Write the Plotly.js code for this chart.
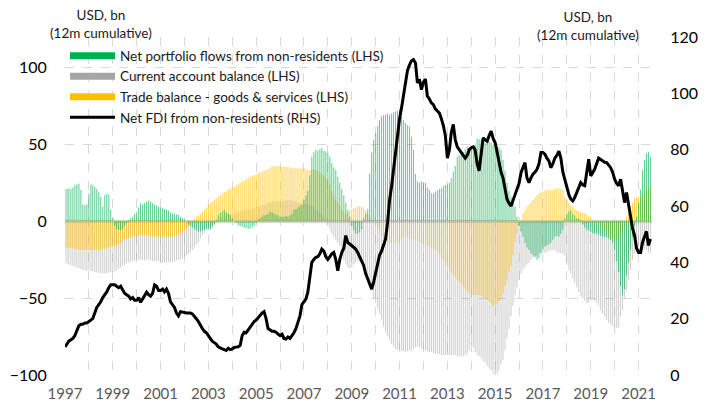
<!DOCTYPE html>
<html><head><meta charset="utf-8">
<script src="https://cdn.plot.ly/plotly-3.0.1.min.js"></script>
<style>html,body{margin:0;padding:0;background:#fff}</style>
</head><body><div id="chart" style="width:714px;height:401px"></div>
<script>
// Monthly data, Jan 1997 - Jul 2021 (USD bn, 12m cumulative)
const startYear = 1997;

const portfolioFlows = [
  21, 21, 21.5, 21, 22, 23.5, 24, 24.5, 20.5, 11, 10.5, 11,
  18, 24, 23.5, 22.5, 21, 19, 16, 9.5, 17, 18, 17.5, 7.5,
  2, -3, -5, -5.5, -6, -5, -3, -1, 1, 2, 3, 5,
  6, 9, 12, 11, 12, 13, 13.5, 13, 12, 11, 10.5, 9.7,
  9, 8.6, 8, 7.5, 7, 6, 5.3, 5, 4.5, 4.2, 3, 2,
  1, 0, -2, -3, -4, -5, -6, -6.6, -6.6, -6, -5.5, -5,
  -5, -5.5, -4, -2, 1, 4, 5.5, 6.5, 7.5, 6, 5, 4,
  2, 0, -1, -2.5, -3, -3.5, -4, -4.5, -5, -4.5, -4, -3,
  -1, 1, 2, 3, 4, 4.2, 5, 6.4, 6, 5, 4.5, 4,
  3, 3, 3, 3.5, 3, 4, 5, 7.5, 8, 9, 10, 10.7,
  14, 17, 20, 30, 42, 45, 46.6, 46, 47, 47.7, 46, 45.5,
  44.4, 42, 38, 35, 33.5, 29, 25, 21, 17, 12, 7.5, 3,
  -3, -6, -7.7, -8, -7, -5, 2, 5, 8, 31, 45, 53,
  57.4, 62, 66, 68.3, 69, 69.4, 70, 69.4, 70, 71, 71.5, 72,
  72.6, 68, 66, 64, 62.5, 61.8, 55, 46.6, 31, 26, 24.9, 26,
  25, 24.9, 22, 20.5, 18.3, 18, 19.4, 20, 21, 21.6, 23, 23.8,
  24, 24.9, 28, 32.4, 36, 42, 43, 44.4, 45, 47, 48.7, 47.5,
  46.6, 48, 49.8, 54, 53.5, 53, 52, 51, 52, 52, 51, 50,
  48.7, 48.7, 48, 46.6, 40, 33, 25, 20, 16, 12, 9.7, 3,
  -3, -6.6, -10, -14, -17, -18.6, -20.7, -22, -23, -25, -24, -20.7,
  -18, -16.4, -15.5, -15, -14, -12, -10, -9.5, -10, -8, -5.5, 2,
  5, 6.4, 7, 5, 4, 2, 2, 1, -2, -4, -5.5, -6,
  -7, -7.7, -8, -7.7, -8.5, -9.5, -10, -10, -10.5, -11, -12, -14,
  -18.6, -26, -33, -42, -48, -44, -35, -27, -18.6, -10, -3, 3,
  12, 20.5, 33.5, 40, 44.4, 45, 42
];

const currentAccount = [
  -27, -27.5, -28, -28.5, -29, -29.4, -30, -30.5, -31, -31.6, -32, -32,
  -32, -32.5, -32.7, -33, -33.3, -33.5, -33.8, -34, -34, -33.8, -33.5, -33,
  -33, -32.5, -31.6, -31, -30, -29, -28.3, -27.5, -27, -26.5, -26, -25.5,
  -25, -25, -25, -25, -25.5, -25, -25, -25.5, -26, -26, -26, -26,
  -27, -27, -27, -27, -26.5, -26.5, -26, -26, -25.5, -25, -25, -24,
  -23, -22, -21, -20, -18.6, -17, -15.3, -14, -11, -8.8, -7.7, -6,
  -5.5, -4, -3, -2.3, -1, 0.5, 2, 3, 4, 4.5, 5, 5,
  5, 5.5, 6, 6, 6.5, 7, 7, 7.5, 7.5, 8, 8, 8.5,
  9, 9.5, 10, 10.5, 11, 11.5, 12, 12.5, 13, 13, 13, 13,
  13, 13, 13.5, 13.5, 14, 14, 13.5, 13, 13, 12.5, 12, 12,
  12, 11.5, 11, 10.5, 10, 9, 8, 7, 5.5, 4, 2.5, 1,
  -2, -5, -8, -10, -12, -14, -16, -20, -25, -28, -30, -30.5,
  -30, -28, -27, -26, -26, -27, -31, -34, -37, -40, -45, -50,
  -53, -57, -60, -64, -68.5, -72, -75, -77, -80, -81.5, -83, -83.5,
  -83.7, -84, -84.5, -84.8, -84.5, -84, -84, -83, -82, -81.5, -82, -83,
  -83.5, -84, -84.5, -85, -85, -85.5, -86, -86, -86.5, -87, -87, -87,
  -87, -87, -87, -87, -87, -88, -88, -88, -88, -87, -86, -84,
  -80, -82, -85, -87, -88, -89, -91, -92, -94, -96, -97, -99,
  -101, -99, -97, -93, -90, -84, -76, -70, -62, -55, -48, -43,
  -38, -34, -31.6, -30, -28, -27, -25.5, -24, -23, -22, -20.7, -20.5,
  -20.5, -20.5, -20, -19, -18.6, -18.6, -19, -20, -20.7, -20.7, -21, -22,
  -28, -31.6, -34, -37, -40, -43, -46, -48.8, -50, -51.5, -53, -53,
  -51, -51, -52, -53, -55, -58, -60, -62, -64, -66, -67, -68,
  -69, -69.5, -69, -62, -57.7, -50, -45, -38, -31.6, -25, -21, -18.6,
  -16.4, -16.5, -17, -18, -18.6, -20, -20.7
];

const tradeBalance = [
  -16.5, -17, -17, -17.5, -17.5, -18, -18, -18.5, -18.6, -18.6, -18.6, -18.6,
  -18.6, -18.6, -18.6, -18.6, -18.6, -18.6, -18.6, -18, -18, -17.5, -17, -16.4,
  -16.4, -16, -15.5, -15, -14, -13, -12, -11.5, -11, -10.5, -10, -10,
  -9.5, -9, -8.8, -8.8, -8.8, -9, -9, -9.5, -9.5, -10, -10, -10,
  -10, -10, -10, -10, -10, -10, -9.8, -9.5, -9, -8.8, -8, -7,
  -5.5, -4.5, -3.4, -2, 0, 1.5, 3, 4, 5, 6.4, 7.5, 9,
  10.5, 11.8, 13, 14, 15, 16, 17, 18, 19, 19.4, 20.5, 21.5,
  22, 22.7, 23.5, 24.5, 25, 26, 26.5, 27.5, 28, 29, 29.5, 30,
  30.5, 31.4, 32, 32.5, 33, 33.5, 34, 35, 35.5, 36, 36, 36,
  35.7, 35.5, 35.5, 35.7, 35.5, 35, 34.6, 34.6, 34.6, 34.6, 34.6, 34.6,
  34.6, 34, 33.5, 33.5, 34, 34, 33.5, 33, 32, 31, 29.5, 28,
  27, 24, 20, 17, 14, 12, 10, 8, 6, 5, 5.5, 7,
  8, 8.6, 9, 9.7, 9.7, 9.5, 9, 7, 5, 3, 1, 0,
  -2, -5, -8, -10, -11, -12, -13, -13.5, -14, -14, -14, -13,
  -12, -11, -10.5, -10, -10, -10.5, -11, -12, -12.5, -13, -13.5, -14,
  -14.5, -15, -15.5, -16.4, -17, -17.5, -18.6, -19.5, -21, -23, -25, -27.5,
  -29.5, -31, -33, -34, -36, -38, -39, -40, -42, -44, -45.5, -47,
  -47.5, -48, -48, -48, -48, -48.5, -49, -50, -51, -52, -53.5, -55,
  -55, -54, -52, -51, -47, -42, -38, -33, -29, -22, -14, -8,
  -3, 1, 5, 7, 9.7, 11, 12.5, 14, 15.5, 17, 18.3, 19,
  19.5, 20, 20.5, 20.5, 20.5, 20.5, 21, 21.6, 21.5, 21, 20.5, 16,
  14, 12, 10.5, 9.7, 8, 7, 6.4, 6, 5.5, 5.3, 4.5, 3.5,
  2, 1, 0, -1, -2.3, -3, -4, -5.5, -7, -8, -10, -11.5,
  -13, -12, -11, -10, -6, -3, 3, 5, 9.7, 12, 15, 15.5,
  16, 16, 17, 18.3, 20, 21.6, 21.6
];

const netFDI = [
  10, 11, 12, 12.5, 13, 14, 16, 17.5, 18, 18, 18.5, 18.5,
  19, 19.5, 20, 22, 24, 25, 26, 27.5, 28.5, 29.5, 31, 32,
  32, 32, 31.5, 31, 31.5, 30, 29, 28.5, 28, 27, 27.5, 26.5,
  26.5, 27.5, 25.8, 27, 28, 29.4, 28.5, 28, 29, 32, 31.5, 30,
  30, 30.5, 29.5, 30.5, 29, 26, 25, 24, 22, 21, 22.5, 22.3,
  22.3, 22, 22, 22, 21.7, 21, 20, 19, 17.5, 16.5, 15.5, 15,
  14, 13, 12, 11.5, 11, 10, 9.5, 9.3, 9, 8.7, 9.5, 9,
  9.3, 9.8, 9.9, 10, 10.5, 14, 15.2, 15, 16, 17, 17.6, 19,
  19.5, 20.5, 21, 22, 22.5, 20, 16.5, 16, 15.5, 15.5, 15.2, 14.5,
  14, 14.5, 13, 12.8, 13.5, 13, 14, 15, 16.5, 18.8, 21, 25,
  26, 27, 29.4, 34, 40, 41, 41.8, 42, 43, 44.7, 44, 42,
  41, 42, 43, 43.5, 41, 37, 41, 43.5, 45, 49.5, 47, 46.5,
  45.9, 45, 44.7, 43.5, 42, 41, 38.9, 36, 34, 32, 30.5, 33,
  36.5, 39, 42.5, 44, 46, 48.3, 54, 62, 67, 73, 80, 85,
  91, 95, 99, 104, 108, 110, 111.5, 112, 110.8, 103.7, 105, 101.3,
  104, 105, 99, 98, 96.6, 96, 94.5, 93.7, 93, 91, 88.5, 85,
  77, 80, 86, 89, 83.6, 81, 80, 79, 78, 77, 78, 80,
  80.7, 81, 80, 75, 72.5, 79, 84.2, 83.5, 83, 85, 86.6, 84,
  82.5, 79, 75.4, 72, 70, 66, 62.4, 61, 60, 62, 64, 65.4,
  68, 71.9, 74, 75.4, 70, 68.3, 70, 71.3, 72, 73, 75, 79,
  79, 78.3, 77, 76, 73.6, 75, 77, 78, 79.5, 77, 72, 69.5,
  66, 64, 62.5, 61.8, 63, 64.8, 66, 68.3, 67.5, 67.2, 72, 76.6,
  70.7, 72, 73, 75, 77, 76.5, 76, 75.5, 75.4, 74.5, 73.6, 72,
  69.5, 68, 67.2, 69.5, 66, 61.2, 64.8, 60, 56.5, 52, 49.5, 45,
  43.5, 43.5, 47, 49.5, 51, 46, 48.3
];

const seriesNames = [
  'Net portfolio flows from non-residents (LHS)',
  'Current account balance (LHS)',
  'Trade balance - goods & services (LHS)',
  'Net FDI from non-residents (RHS)'
];
const tickYears = [];
for (let y = 1997; y <= 2021; y++) tickYears.push(y);
const tickLabels = tickYears.map(y => (y % 2 === 1 ? String(y) : ''));

// month dates built from the series length
const dates = netFDI.map((_, i) => {
  const y = startYear + Math.floor(i / 12);
  const m = (i % 12) + 1;
  return y + '-' + String(m).padStart(2, '0') + '-01';
});
const tickDates = tickYears.map(y => y + '-01-01');

const GREEN = '#00b050', GREY = '#a6a6a6', YELLOW = '#ffc000';
const barW = 16 * 86400000;

const traces = [
  {type:'bar', x:dates, y:currentAccount, width:barW, marker:{color:'rgba(166,166,166,0.55)', line:{width:0}}, showlegend:false, hoverinfo:'skip'},
  {type:'bar', x:dates, y:tradeBalance, width:barW, marker:{color:'rgba(255,192,0,0.7)', line:{width:0}}, showlegend:false, hoverinfo:'skip'},
  {type:'bar', x:dates, y:portfolioFlows, width:barW, marker:{color:'rgba(0,176,80,0.62)', line:{width:0}}, showlegend:false, hoverinfo:'skip'},
  // legend swatches
  {type:'scatter', mode:'lines', x:[null], y:[null], name:seriesNames[0], line:{color:GREEN, width:7}, legendrank:1},
  {type:'scatter', mode:'lines', x:[null], y:[null], name:seriesNames[1], line:{color:GREY, width:7}, legendrank:2},
  {type:'scatter', mode:'lines', x:[null], y:[null], name:seriesNames[2], line:{color:YELLOW, width:7}, legendrank:3},
  {type:'scatter', mode:'lines', x:dates, y:netFDI, yaxis:'y2', name:seriesNames[3], line:{color:'#000', width:3}, legendrank:4}
];

const layout = {
  width:714, height:401,
  margin:{l:65, r:62, t:37, b:26},
  paper_bgcolor:'#fff', plot_bgcolor:'#fff',
  barmode:'overlay',
  font:{family:'Lato, sans-serif', color:'#000'},
  showlegend:true,
  legend:{x:0, y:0.99, xanchor:'left', yanchor:'top', bgcolor:'rgba(0,0,0,0)',
          font:{size:13.5, color:'#1a1a1a'}, itemwidth:45, tracegroupgap:0},
  xaxis:{type:'date', range:['1997-01-01','2021-07-25'], tickmode:'array', tickvals:tickDates, ticktext:tickLabels,
         showgrid:true, gridcolor:'#d9d9d9', griddash:'dash', gridwidth:1, zeroline:false, showline:false,
         ticks:'outside', ticklen:5, tickcolor:'rgba(0,0,0,0)', tickfont:{size:15, color:'#595959'}, automargin:false},
  yaxis:{range:[-100,120], tickmode:'array', tickvals:[-100,-50,0,50,100], showgrid:true, gridcolor:'#d9d9d9', griddash:'dash',
         zeroline:true, zerolinecolor:'#d0d0d0', zerolinewidth:3, showline:false,
         ticks:'outside', ticklen:14, tickcolor:'rgba(0,0,0,0)', tickfont:{size:16, color:'#000'}, automargin:false},
  yaxis2:{overlaying:'y', side:'right', range:[0,120], dtick:20, tick0:0, showgrid:false, zeroline:false, showline:false,
          ticks:'outside', ticklen:14, tickcolor:'rgba(0,0,0,0)', tickfont:{size:16, color:'#000'}, automargin:false},
  annotations:[
    {xref:'paper', yref:'paper', x:0.061, y:1.095, xanchor:'center', yanchor:'top', showarrow:false,
     text:'USD, bn<br>(12m cumulative)', font:{size:13.5, color:'#1a1a1a'}},
    {xref:'paper', yref:'paper', x:0.891, y:1.089, xanchor:'center', yanchor:'top', showarrow:false,
     text:'USD, bn<br>(12m cumulative)', font:{size:13.5, color:'#1a1a1a'}}
  ]
};

Plotly.newPlot('chart', traces, layout, {displayModeBar:false});
</script>
</body></html>
